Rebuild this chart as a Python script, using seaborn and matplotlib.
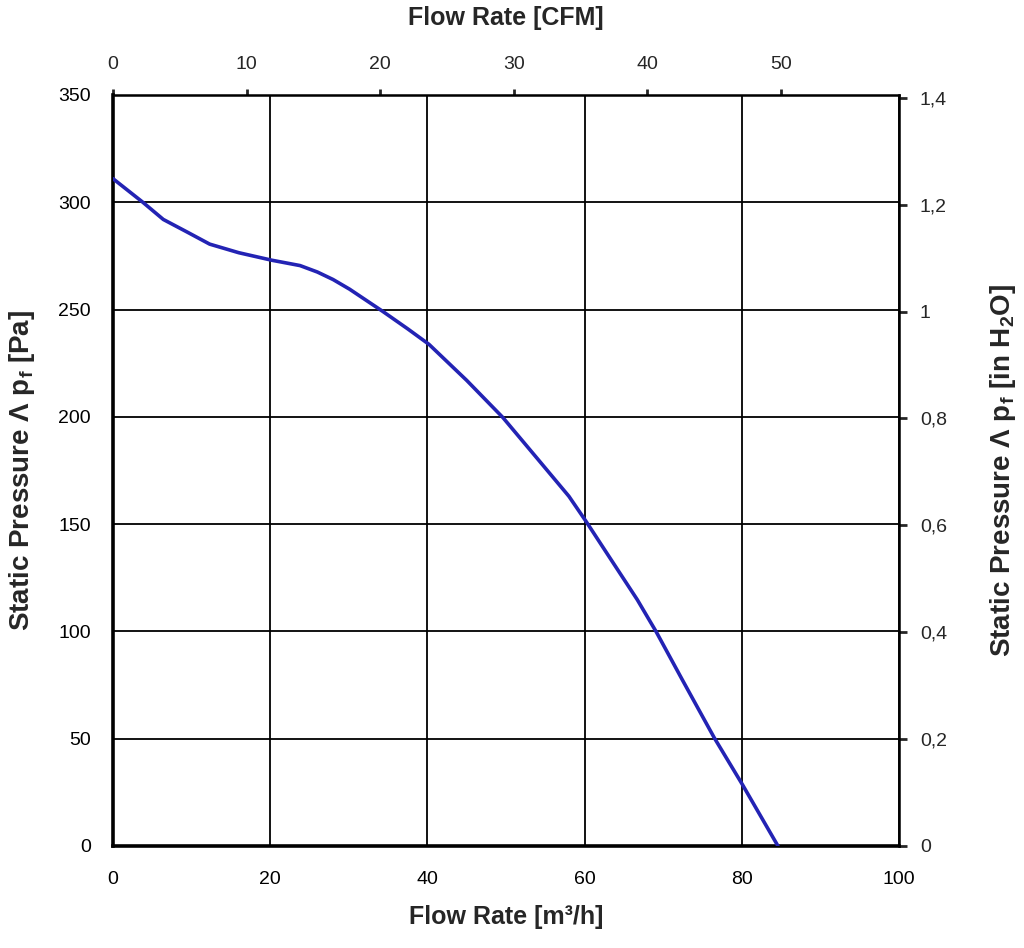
import matplotlib
matplotlib.use("Agg")
import matplotlib.pyplot as plt
import seaborn as sns
import pandas as pd

# Data
flow_m3h = [0, 3.8, 6.4, 9.5, 12.3, 16, 20.2, 23.8, 26, 28, 30.1, 34.3, 37.5,
            40.2, 45, 49.6, 54, 58, 60.2, 63, 66.7, 69.1, 72.5, 76.5, 80.1, 84.6]
pressure_pa = [311, 300, 292, 286, 280.5, 276.5, 273, 270.5, 267.5, 264, 259.5,
               249.2, 241, 233.8, 217, 199.7, 180.5, 163, 151.2, 135.5, 114.8,
               99.9, 77, 50.4, 28.5, 0]

x_ticks = [0, 20, 40, 60, 80, 100]
y_ticks = [0, 50, 100, 150, 200, 250, 300, 350]
cfm_ticks = [0, 10, 20, 30, 40, 50]
inh2o_ticks = [0, 0.2, 0.4, 0.6, 0.8, 1.0, 1.2, 1.4]
inh2o_labels = ["0", "0,2", "0,4", "0,6", "0,8", "1", "1,2", "1,4"]

M3H_TO_CFM = 0.5886
PA_TO_INH2O = 1 / 249.09

sns.set_style("white")
plt.rcParams['font.family'] = ['Liberation Sans', 'DejaVu Sans']
plt.rcParams['mathtext.default'] = 'regular'

df = pd.DataFrame({"flow": flow_m3h, "pressure": pressure_pa})

fig = plt.figure(figsize=(10.24, 9.48), dpi=100)
ax = fig.add_axes([113/1024, 1 - 846/948, (899-113)/1024, (846-95)/948])

sns.lineplot(data=df, x="flow", y="pressure", ax=ax, sort=False,
             color="#2323b4", linewidth=2.6, zorder=5)

ax.set_xlim(0, 100)
ax.set_ylim(0, 350)
ax.set_xticks(x_ticks)
ax.set_yticks(y_ticks)
ax.grid(True, color="black", linewidth=1.3)
for s in ax.spines.values():
    s.set_color("black")
    s.set_linewidth(1.8)
ax.spines['left'].set_linewidth(2.6)
ax.spines['bottom'].set_linewidth(2.6)
ax.tick_params(axis='both', which='major', direction='inout', length=8, width=2,
               labelsize=14, colors='black')
ax.tick_params(axis='y', pad=12)
ax.tick_params(axis='x', pad=14)
ax.set_xlabel("Flow Rate [m³/h]", fontsize=18, fontweight='bold', va='center')
ax.xaxis.set_label_coords(0.5, -0.094)
ax.set_ylabel("Static Pressure Λ p$_f$ [Pa]", fontsize=20, fontweight='bold',
              va='center', ha='center')
ax.yaxis.set_label_coords(-0.1158, 0.5)

top = ax.secondary_xaxis('top', functions=(lambda v: v * M3H_TO_CFM, lambda v: v / M3H_TO_CFM))
top.set_xticks(cfm_ticks)
top.tick_params(direction='out', length=4, width=2, labelsize=14, pad=12)
top.set_xlabel("Flow Rate [CFM]", fontsize=18, fontweight='bold', va='center')
top.xaxis.set_label_coords(0.5, 1.1025, transform=ax.transAxes)

right = ax.secondary_yaxis('right', functions=(lambda v: v * PA_TO_INH2O, lambda v: v / PA_TO_INH2O))
right.set_yticks(inh2o_ticks)
right.set_yticklabels(inh2o_labels)
right.tick_params(direction='out', length=6, width=2, labelsize=14, pad=9)
right.set_ylabel("Static Pressure Λ p$_f$ [in H$_2$O]", fontsize=20, fontweight='bold',
                 va='center', ha='center')
right.yaxis.set_label_coords(1.1323, 0.5, transform=ax.transAxes)

fig.savefig("out.png", dpi=100, facecolor="white")
